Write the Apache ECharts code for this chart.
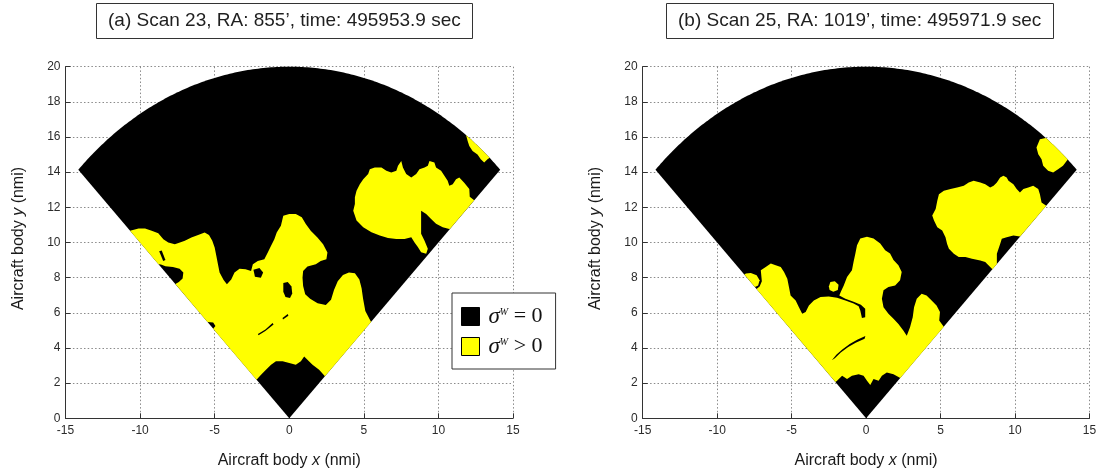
<!DOCTYPE html>
<html>
<head>
<meta charset="utf-8">
<script src="https://cdn.jsdelivr.net/npm/echarts@6/dist/echarts.min.js"></script>
<style>
  html, body { margin: 0; padding: 0; background: #ffffff; }
  #chart { width: 1101px; height: 474px; }
</style>
</head>
<body>
<div id="chart"></div>
<script>
// Radar scan footprint: range (nmi) and half sweep (deg) either side of the nose.
const RANGE_NMI = 20;
const HALF_SWEEP_DEG = 45;

const panelTitles = [
  '(a) Scan 23, RA: 855\u2019, time: 495953.9 sec',
  '(b) Scan 25, RA: 1019\u2019, time: 495971.9 sec'
];
const xTickRange = [-15, 15, 5];   // min, max, step
const yTickRange = [0, 20, 2];
const legendNames = ['\u03c3W = 0', '\u03c3W > 0'];

// Cells with sigma^W > 0, scan 23 (outline vertices, nmi). Parts running past
// the scan edge are trimmed to the footprint when drawn.
const scan23Positive = [
  [[-11.0,10.6],[-10.1,10.8],[-9.67,10.8],[-9.22,10.67],[-8.78,10.53],[-8.44,10.19],[-8.11,10.0],[-7.67,9.9],
   [-7.33,10.0],[-7.0,10.1],[-6.56,10.29],[-6.11,10.42],[-5.67,10.57],[-5.38,10.42],[-5.16,10.1],[-5.0,9.71],
   [-4.89,9.24],[-4.78,8.76],[-4.67,8.29],[-4.4,7.87],[-4.18,7.62],[-3.89,7.9],[-3.67,8.29],[-3.33,8.51],
   [-2.93,8.48],[-2.56,8.38],[-2.44,8.76],[-2.11,8.95],[-1.67,9.05],[-1.44,9.43],[-1.22,9.81],[-1.0,10.19],
   [-0.84,10.57],[-0.56,10.95],[-0.4,11.52],[0.0,11.62],[0.44,11.62],[0.84,11.43],[1.11,11.05],[1.44,10.67],
   [1.89,10.29],[2.27,9.9],[2.56,9.43],[2.49,9.05],[2.11,8.95],[1.78,8.76],[1.22,8.63],[0.93,8.38],
   [0.89,8.0],[0.93,7.52],[1.07,7.05],[1.4,6.8],[1.9,6.55],[2.45,6.45],[2.8,6.75],[3.0,7.3],
   [3.25,7.8],[3.6,8.15],[4.0,8.3],[4.4,8.25],[4.7,7.9],[4.85,7.4],[4.95,6.8],[5.1,6.1],
   [5.6,5.3],[2.6,2.2],[2.0,2.76],[1.56,3.05],[1.22,3.33],[1.0,3.52],[0.78,3.24],[0.44,3.05],
   [0.0,3.14],[-0.44,3.24],[-0.89,3.24],[-1.22,3.05],[-1.56,2.76],[-1.89,2.48],[-2.3,2.1],[-5.3,4.9],
   [-4.95,5.25],[-5.1,5.45],[-5.7,5.5],[-7.9,7.5],[-7.4,7.75],[-7.15,7.95],[-7.1,8.3],[-7.35,8.5],
   [-7.8,8.6],[-8.3,8.65],[-8.6,8.75],[-9.1,8.8]],
  [[4.4,12.19],[4.29,11.81],[4.51,11.25],[4.96,10.87],[5.51,10.58],[6.07,10.4],[6.62,10.26],[7.18,10.2],
   [7.73,10.2],[8.18,10.3],[8.4,10.0],[8.62,9.74],[8.84,9.45],[9.18,9.36],[9.29,9.64],[9.07,10.1],
   [8.84,10.5],[8.84,11.25],[8.84,11.81],[9.18,11.62],[9.51,11.34],[9.84,11.06],[10.29,10.87],[10.73,10.77],
   [11.5,10.9],[12.7,12.2],[12.1,12.6],[12.07,13.04],[11.73,13.4],[11.4,13.7],[11.18,13.6],[10.96,13.32],
   [10.73,13.23],[10.62,13.51],[10.4,13.79],[10.18,14.08],[9.84,14.26],[9.73,14.55],[9.4,14.64],[9.29,14.36],
   [9.07,14.26],[8.73,14.17],[8.51,13.89],[8.18,13.7],[7.84,13.89],[7.62,14.26],[7.51,14.64],[7.29,14.36],
   [7.18,14.08],[6.84,13.98],[6.51,14.08],[6.18,14.26],[5.73,14.26],[5.4,14.17],[5.29,13.89],[4.96,13.6],
   [4.73,13.32],[4.51,12.94],[4.4,12.57]],
  [[11.84,16.15],[11.96,15.77],[12.07,15.49],[12.29,15.2],[12.62,15.0],[12.84,14.74],[13.07,14.55],[13.29,14.74],
   [14.2,15.2],[12.0,16.8]]
];

// Pockets with sigma^W = 0 inside the scan 23 cells.
const scan23Zero = [
  [[-0.4,7.7],[-0.1,7.75],[0.15,7.5],[0.2,7.1],[0.05,6.85],[-0.25,6.9],[-0.4,7.2]],
  [[-2.4,8.45],[-2.0,8.55],[-1.75,8.3],[-1.9,8.0],[-2.3,8.05]],
  [[-2.1,4.8],[-1.6,5.05],[-1.12,5.42],[-1.05,5.34],[-1.6,4.96],[-2.06,4.72]],
  [[-0.45,5.7],[-0.1,5.93],[-0.06,5.84],[-0.42,5.62]],
  [[-8.72,9.5],[-8.55,9.55],[-8.3,9.0],[-8.45,8.95]]
];

// Cells with sigma^W > 0, scan 25.
const scan25Positive = [
  [[-7.6,7.2],[-7.15,7.5],[-7.0,7.8],[-7.07,8.42],[-6.74,8.61],[-6.4,8.8],[-6.07,8.7],[-5.73,8.61],
   [-5.51,8.32],[-5.29,7.94],[-5.18,7.47],[-5.07,6.99],[-4.73,6.7],[-4.51,6.32],[-4.29,5.94],[-4.06,6.04],
   [-3.84,6.42],[-3.51,6.7],[-3.06,6.9],[-2.51,6.93],[-1.95,6.86],[-1.39,6.7],[-0.84,6.53],[-0.5,6.38],
   [-0.39,6.13],[-0.28,5.71],[-0.06,5.75],[-0.06,6.23],[-0.35,6.46],[-0.84,6.63],[-1.39,6.8],[-1.8,6.98],
   [-1.68,7.22],[-1.5,7.56],[-1.28,8.04],[-0.95,8.42],[-0.84,8.9],[-0.72,9.37],[-0.61,9.85],[-0.39,10.23],[0.06,10.32],
   [0.5,10.23],[0.95,9.94],[1.28,9.56],[1.61,9.37],[1.84,9.0],[2.17,8.7],[2.39,8.32],[2.28,7.85],
   [1.95,7.56],[1.5,7.47],[1.17,7.28],[1.06,6.8],[1.17,6.32],[1.5,5.94],[1.84,5.66],[2.17,5.37],
   [2.5,4.99],[2.73,4.7],[2.95,5.18],[3.13,5.75],[3.22,6.32],[3.4,6.8],[3.73,7.09],[4.06,6.99],
   [4.4,6.7],[4.73,6.42],[4.96,6.04],[4.91,5.56],[5.4,5.0],[2.7,2.1],[1.84,2.51],[1.39,2.61],
   [1.06,2.42],[0.84,2.13],[0.5,2.23],[0.28,1.9],[0.06,2.13],[-0.17,2.42],[-0.5,2.51],[-0.95,2.42],
   [-1.28,2.23],[-1.61,2.42],[-1.95,2.13],[-2.3,1.9]],
  [[-8.5,8.0],[-8.07,8.23],[-7.74,8.27],[-7.35,8.13],[-7.15,7.85],[-7.25,7.55],[-7.5,7.45]],
  [[-2.5,7.5],[-2.4,7.75],[-2.1,7.8],[-1.85,7.6],[-1.9,7.3],[-2.2,7.2],[-2.45,7.3]],
  [[4.56,11.25],[4.78,10.87],[5.11,10.68],[5.33,10.3],[5.44,9.92],[5.56,9.64],[5.89,9.36],[6.22,9.17],
   [6.67,9.17],[7.11,9.08],[7.67,8.98],[8.0,8.89],[8.33,8.6],[8.56,8.42],[8.78,8.79],[8.78,9.36],
   [9.0,9.92],[9.11,10.21],[9.44,10.3],[9.89,10.4],[10.6,10.3],[12.6,11.8],[11.78,12.28],[11.67,12.75],
   [11.56,13.04],[11.22,13.23],[10.89,13.13],[10.56,13.04],[10.33,12.85],[10.11,13.04],[9.89,13.32],[9.56,13.51],
   [9.44,13.7],[9.22,13.79],[9.0,13.7],[8.78,13.42],[8.56,13.23],[8.33,13.13],[8.0,13.32],[7.67,13.42],
   [7.22,13.51],[6.89,13.42],[6.56,13.23],[6.11,13.13],[5.67,13.04],[5.22,12.94],[4.89,12.75],[4.78,12.38],
   [4.67,11.91],[4.44,11.53]],
  [[11.67,15.87],[12.11,15.96],[12.56,15.68],[12.89,15.4],[13.22,15.11],[13.56,14.74],[13.22,14.36],[12.89,14.17],
   [12.56,13.98],[12.22,14.08],[11.89,14.36],[11.78,14.74],[11.56,15.02],[11.44,15.4]]
];

// Pockets with sigma^W = 0 inside the scan 25 cells.
const scan25Zero = [
  [[-2.3,3.3],[-2.0,3.62],[-1.6,3.92],[-1.1,4.22],[-0.6,4.47],[-0.05,4.68],[-0.1,4.52],[-0.7,4.3],
   [-1.2,4.05],[-1.7,3.75],[-2.1,3.42]]
];

// ---- footprint geometry -------------------------------------------------
function footprint(steps) {
  const pts = [[0, 0]];
  for (let i = 0; i <= steps; i++) {
    const a = (90 - HALF_SWEEP_DEG + 2 * HALF_SWEEP_DEG * i / steps) * Math.PI / 180;
    pts.push([RANGE_NMI * Math.cos(a), RANGE_NMI * Math.sin(a)]);
  }
  return pts;
}
const FOOTPRINT = footprint(180);

// Sutherland-Hodgman: trim an outline to the (convex, counter-clockwise) footprint.
function trimToFootprint(poly) {
  let out = poly;
  for (let i = 0; i < FOOTPRINT.length && out.length; i++) {
    const a = FOOTPRINT[i], b = FOOTPRINT[(i + 1) % FOOTPRINT.length];
    const inside = p => (b[0] - a[0]) * (p[1] - a[1]) - (b[1] - a[1]) * (p[0] - a[0]) >= 0;
    const cross = (p, q) => {
      const den = (p[0] - q[0]) * (a[1] - b[1]) - (p[1] - q[1]) * (a[0] - b[0]);
      const t = ((p[0] - a[0]) * (a[1] - b[1]) - (p[1] - a[1]) * (a[0] - b[0])) / den;
      return [p[0] + t * (q[0] - p[0]), p[1] + t * (q[1] - p[1])];
    };
    const input = out;
    out = [];
    for (let j = 0; j < input.length; j++) {
      const cur = input[j], prev = input[(j + input.length - 1) % input.length];
      const ci = inside(cur), pi = inside(prev);
      if (ci) {
        if (!pi) out.push(cross(prev, cur));
        out.push(cur);
      } else if (pi) {
        out.push(cross(prev, cur));
      }
    }
  }
  return out;
}

const BLACK = '#000000';
const YELLOW = '#ffff00';
const FONT = 'Liberation Sans, Arial, sans-serif';
const SERIF = 'Liberation Serif, Times New Roman, serif';

function polygonLayer(name, polys, color, panel, z) {
  return {
    type: 'custom',
    name: name,
    coordinateSystem: 'cartesian2d',
    xAxisIndex: panel,
    yAxisIndex: panel,
    z: z,
    silent: true,
    animation: false,
    itemStyle: { color: color },
    data: polys.map(p => p[0]),
    renderItem: function (params, api) {
      const ring = trimToFootprint(polys[params.dataIndex]);
      if (ring.length < 3) return null;
      return {
        type: 'polygon',
        shape: { points: ring.map(p => api.coord(p)) },
        style: { fill: color, stroke: null }
      };
    }
  };
}

const grids = [
  { left: 65.5, top: 66.7, width: 447.5, height: 351.6 },
  { left: 642.7, top: 66.7, width: 446.8, height: 351.6 }
];

const axisText = { color: '#2b2b2b', fontFamily: FONT, fontSize: 12 };
const nameText = {
  color: '#1a1a1a', fontFamily: FONT, fontSize: 16,
  rich: { i: { fontStyle: 'italic', fontFamily: FONT, fontSize: 16, color: '#1a1a1a' } }
};
const axisLine = { show: true, onZero: false, lineStyle: { color: '#333', width: 1 } };
const axisTick = { show: true, inside: true, length: 5, lineStyle: { color: '#333' } };
const gridLine = { show: true, lineStyle: { color: '#8a8a8a', width: 1, type: [1.5, 2.2] } };

const xAxes = grids.map((g, i) => ({
  gridIndex: i, type: 'value',
  min: xTickRange[0], max: xTickRange[1], interval: xTickRange[2],
  axisLine: axisLine, axisTick: axisTick, splitLine: gridLine,
  axisLabel: Object.assign({ margin: 6 }, axisText),
  name: 'Aircraft body {i|x} (nmi)', nameLocation: 'middle', nameGap: 34,
  nameTextStyle: nameText
}));
const yAxes = grids.map((g, i) => ({
  gridIndex: i, type: 'value',
  min: yTickRange[0], max: yTickRange[1], interval: yTickRange[2],
  axisLine: axisLine, axisTick: axisTick, splitLine: gridLine,
  axisLabel: Object.assign({ margin: 5 }, axisText),
  name: 'Aircraft body {i|y} (nmi)', nameLocation: 'middle', nameGap: 39,
  nameTextStyle: Object.assign({ padding: [0, 0, 0, 8] }, nameText)
}));

const titleBoxes = [96, 666].map((left, i) => ({
  text: panelTitles[i], left: left, top: 3,
  padding: [7, 12], borderColor: '#333', borderWidth: 1,
  textStyle: { fontFamily: FONT, fontSize: 19, fontWeight: 'normal', color: '#1f1f1f', lineHeight: 22 }
}));

const option = {
  animation: false,
  backgroundColor: '#ffffff',
  title: titleBoxes,
  grid: grids.map(g => Object.assign({ containLabel: false, outerBoundsMode: 'none' }, g)),
  xAxis: xAxes,
  yAxis: yAxes,
  legend: {
    data: legendNames,
    orient: 'vertical',
    left: 452, top: 293,
    padding: [12, 13, 11, 9],
    itemWidth: 18, itemHeight: 18, itemGap: 7,
    icon: 'rect',
    itemStyle: { borderColor: '#000', borderWidth: 1 },
    backgroundColor: '#ffffff', borderColor: '#333', borderWidth: 1, borderRadius: 0,
    selectedMode: false,
    formatter: function (name) {
      const rel = name === legendNames[0] ? ' = 0' : ' > 0';
      return '{g| }{s|\u03c3}{w|W}{t|' + rel + '}';
    },
    textStyle: {
      color: '#111',
      lineHeight: 18,
      rich: {
        g: { fontSize: 4, lineHeight: 18, width: 4 },
        s: { fontFamily: SERIF, fontStyle: 'italic', fontSize: 23, lineHeight: 18, color: '#111' },
        w: { fontFamily: SERIF, fontStyle: 'italic', fontSize: 10, lineHeight: 10, verticalAlign: 'top', color: '#111' },
        t: { fontFamily: SERIF, fontSize: 22, lineHeight: 18, color: '#111' }
      }
    }
  },
  series: [
    polygonLayer(legendNames[0], [FOOTPRINT], BLACK, 0, 2),
    polygonLayer(legendNames[1], scan23Positive, YELLOW, 0, 3),
    polygonLayer(legendNames[0], scan23Zero, BLACK, 0, 4),
    polygonLayer(legendNames[0], [FOOTPRINT], BLACK, 1, 2),
    polygonLayer(legendNames[1], scan25Positive, YELLOW, 1, 3),
    polygonLayer(legendNames[0], scan25Zero, BLACK, 1, 4)
  ]
};

const chart = echarts.init(document.getElementById('chart'), null, { renderer: 'canvas' });
chart.setOption(option);
</script>
</body>
</html>
